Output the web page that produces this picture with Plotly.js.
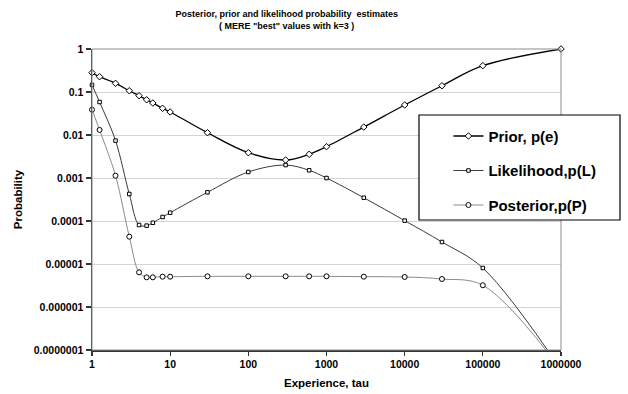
<!DOCTYPE html>
<html>
<head>
<meta charset="utf-8">
<script src="https://cdn.plot.ly/plotly-3.0.1.min.js"></script>
<style>html,body{margin:0;padding:0;background:#fff;}#chart{width:628px;height:394px;}</style>
</head>
<body>
<div id="chart"></div>
<script>
// Experience values (tau)
var experience = [1, 1.25, 2, 3, 4, 5, 6, 8, 10, 30, 100, 300, 600, 1000, 3000, 10000, 30000, 100000, 1000000];
// Prior, p(e)
var prior = [0.281, 0.227, 0.159, 0.107, 0.082, 0.066, 0.0555, 0.0418, 0.0343, 0.0113, 0.00387, 0.00262, 0.00356, 0.00535, 0.0153, 0.0499, 0.140, 0.409, 1.0];
// Likelihood, p(L)
var likelihood = [0.146, 0.0585, 0.0074, 0.000425, 0.0000807, 0.000078, 0.000091, 0.000124, 0.000156, 0.000465, 0.00138, 0.0020, 0.00151, 0.00100, 0.000348, 0.000102, 0.0000325, 0.00000807, 0.000000035];
// Posterior, p(P)
var posterior = [0.0388, 0.0131, 0.00113, 0.0000432, 0.0000064, 0.0000049, 0.0000049, 0.00000507, 0.00000507, 0.00000517, 0.00000517, 0.00000517, 0.00000517, 0.00000517, 0.00000507, 0.00000499, 0.00000448, 0.0000032, 0.000000035];

var seriesNames = ['Prior, p(e)', 'Likelihood,p(L)', 'Posterior,p(P)'];
var xTickVals = [1, 10, 100, 1000, 10000, 100000, 1000000];
var xTickText = ['1', '10', '100', '1000', '10000', '100000', '1000000'];
var yTickVals = [1, 0.1, 0.01, 0.001, 0.0001, 0.00001, 0.000001, 0.0000001];
var yTickText = ['1', '0.1', '0.01', '0.001', '0.0001', '0.00001', '0.000001', '0.0000001'];

var FONT = 'Liberation Sans, Arial, Helvetica, sans-serif';
var YMIN = 1e-7;

function visibleOpacity(arr) {
  return arr.map(function (v) { return v < YMIN ? 0 : 1; });
}

var traces = [
  {
    x: experience, y: prior, name: seriesNames[0], type: 'scatter', mode: 'lines+markers',
    legendgroup: 'a', cliponaxis: false,
    line: {color: '#000000', width: 1.3, shape: 'spline', smoothing: 1},
    marker: {symbol: 'diamond', size: 5, color: '#ffffff', opacity: visibleOpacity(prior), line: {color: '#000000', width: 1}}
  },
  {
    x: experience, y: likelihood, name: seriesNames[1], type: 'scatter', mode: 'lines+markers',
    legendgroup: 'b', cliponaxis: false,
    line: {color: '#3a3a3a', width: 1, shape: 'spline', smoothing: 1},
    marker: {symbol: 'square', size: 3.5, color: '#ffffff', opacity: visibleOpacity(likelihood), line: {color: '#000000', width: 1}}
  },
  {
    x: experience, y: posterior, name: seriesNames[2], type: 'scatter', mode: 'lines+markers',
    legendgroup: 'c', cliponaxis: false,
    line: {color: '#8a8a8a', width: 1, shape: 'spline', smoothing: 1},
    marker: {symbol: 'circle', size: 5, color: '#ffffff', opacity: visibleOpacity(posterior), line: {color: '#000000', width: 1}}
  }
];

var layout = {
  width: 628, height: 394,
  margin: {l: 92, r: 67, t: 49, b: 44, pad: 0},
  paper_bgcolor: '#ffffff', plot_bgcolor: '#ffffff',
  font: {family: FONT, color: '#000000'},
  showlegend: true,
  title: {
    text: 'Posterior, prior and likelihood probability  estimates<br>( MERE "best" values with k=3 )',
    font: {family: FONT, size: 9, weight: 'bold', color: '#000000'},
    xref: 'container', yref: 'container', x: 0.4565, xanchor: 'center', y: 0.957, yanchor: 'top'
  },
  xaxis: {
    type: 'log', range: [0, 6], tickmode: 'array', tickvals: xTickVals, ticktext: xTickText,
    showgrid: false, zeroline: false, showline: true, linecolor: '#333333', linewidth: 1.5,
    ticks: 'outside', ticklen: 4, tickwidth: 1.2, tickcolor: '#333333',
    tickfont: {family: FONT, size: 10.5, weight: 'bold', color: '#000000'},
    title: {text: 'Experience, tau', font: {family: FONT, size: 11.5, weight: 'bold', color: '#000000'}, standoff: 10}
  },
  yaxis: {
    type: 'log', range: [-7, 0], tickmode: 'array', tickvals: yTickVals, ticktext: yTickText,
    showgrid: true, gridcolor: '#d4d4d4', gridwidth: 1, zeroline: false,
    showline: true, linecolor: '#333333', linewidth: 1.5,
    ticks: 'outside', ticklen: 5, tickwidth: 1.2, tickcolor: '#333333',
    tickfont: {family: FONT, size: 10.5, weight: 'bold', color: '#000000'},
    title: {text: 'Probability', font: {family: FONT, size: 11.5, weight: 'bold', color: '#000000'}, standoff: 8}
  },
  legend: {
    x: 0.76, y: 0.765, xanchor: 'left', yanchor: 'top',
    bgcolor: 'rgba(0,0,0,0)', borderwidth: 0,
    font: {family: FONT, size: 15, weight: 'bold', color: '#000000'},
    traceorder: 'grouped', tracegroupgap: 12
  },
  shapes: [
    {type: 'rect', xref: 'paper', yref: 'paper', x0: 0, x1: 1, y0: 0, y1: 1,
     line: {color: '#8c8c8c', width: 1}, fillcolor: 'rgba(0,0,0,0)', layer: 'above'},
    {type: 'rect', xref: 'paper', yref: 'paper', x0: 0.6972, x1: 1.1258, y0: 0.4319, y1: 0.7807,
     line: {color: '#000000', width: 1.2}, fillcolor: '#ffffff', layer: 'above'}
  ]
};

Plotly.newPlot('chart', traces, layout, {staticPlot: true, displayModeBar: false});
</script>
</body>
</html>
